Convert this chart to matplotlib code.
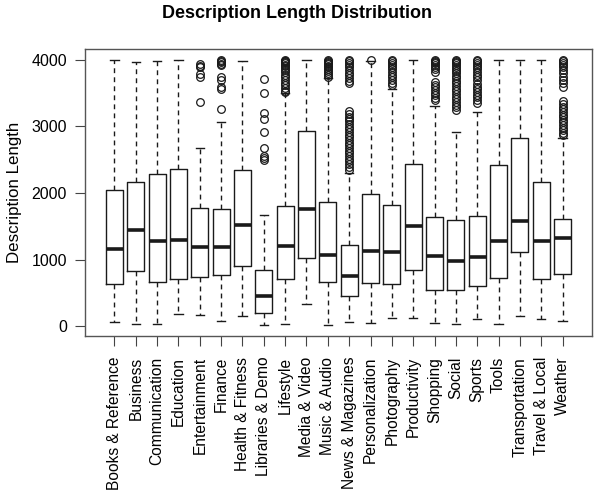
import matplotlib
matplotlib.use("Agg")
import matplotlib.pyplot as plt

plt.rcParams["font.family"] = ["Liberation Sans", "DejaVu Sans"]

categories = ["Books & Reference", "Business", "Communication", "Education",
              "Entertainment", "Finance", "Health & Fitness", "Libraries & Demo",
              "Lifestyle", "Media & Video", "Music & Audio", "News & Magazines",
              "Personalization", "Photography", "Productivity", "Shopping",
              "Social", "Sports", "Tools", "Transportation", "Travel & Local",
              "Weather"]

q1 = [632, 827, 667, 702, 732, 762, 907, 200, 702, 1018, 667,
      451, 647, 627, 842, 541, 541, 601, 717, 1118, 702, 777]
median = [1163, 1439, 1278, 1293, 1183, 1183, 1523, 456, 1198, 1759, 1068,
          747, 1133, 1118, 1504, 1053, 973, 1033, 1278, 1584, 1278, 1328]
q3 = [2045, 2160, 2290, 2356, 1779, 1759, 2341, 842, 1809, 2937, 1870,
      1213, 1985, 1824, 2436, 1644, 1594, 1659, 2416, 2822, 2160, 1609]
whisker_lo = [55, 35, 35, 185, 165, 75, 150, 15, 25, 331, 15,
              65, 50, 125, 125, 50, 35, 100, 35, 150, 100, 75]
whisker_hi = [3995, 3975, 3990, 4000, 2672, 3072, 3985, 1665, 3500, 4000, 3725,
              2300, 3985, 3560, 4000, 3310, 2922, 3215, 4000, 4000, 4000, 2830]

outliers = {
    "Entertainment": [3935, 3910, 3890, 3790, 3750, 3373],
    "Finance": [4000, 3985, 3965, 3945, 3925, 3750, 3700, 3600, 3560, 3258],
    "Libraries & Demo": [3710, 3508, 3208, 3108, 2922, 2672, 2556, 2530, 2500],
    "Lifestyle": [4000, 3990, 3980, 3965, 3950, 3930, 3905, 3880, 3850, 3815,
                  3780, 3740, 3700, 3660, 3620, 3580, 3540, 3515],
    "Music & Audio": [4000, 3990, 3975, 3960, 3940, 3915, 3890, 3860, 3830,
                      3800, 3770, 3745],
    "News & Magazines": [4000, 3980, 3955, 3925, 3890, 3850, 3810, 3770, 3730,
                         3690, 3650, 3230, 3195, 3150, 3110, 3075, 3030, 2990,
                         2955, 2910, 2870, 2835, 2790, 2750, 2715, 2670, 2630,
                         2595, 2550, 2510, 2475, 2430, 2390, 2350],
    "Personalization": [4000],
    "Photography": [4000, 3985, 3960, 3930, 3900, 3860, 3820, 3780, 3740, 3700,
                    3660, 3625],
    "Shopping": [4000, 3990, 3975, 3955, 3930, 3900, 3860, 3820, 3670, 3630,
                 3590, 3550, 3510, 3470, 3430, 3400],
    "Social": [4000, 3990, 3975, 3955, 3930, 3900, 3870, 3835, 3800, 3765, 3730,
               3690, 3650, 3610, 3570, 3530, 3490, 3450, 3410, 3370, 3330,
               3290, 3250],
    "Sports": [4000, 3985, 3960, 3930, 3895, 3860, 3820, 3780, 3740, 3700, 3640,
               3600, 3560, 3520, 3480, 3440, 3400, 3360],
    "Weather": [4000, 3985, 3960, 3930, 3890, 3850, 3800, 3750, 3700, 3650, 3600,
                3380, 3340, 3300, 3260, 3220, 3180, 3140, 3100, 3060, 3020, 2980,
                2940, 2900, 2870],
}

stats = []
for i, name in enumerate(categories):
    stats.append({
        "label": name,
        "q1": q1[i], "med": median[i], "q3": q3[i],
        "whislo": whisker_lo[i], "whishi": whisker_hi[i],
        "fliers": outliers.get(name, []),
    })

fig = plt.figure(figsize=(5.95, 4.9), dpi=100)
ax = fig.add_axes([85 / 595, 1 - 336 / 490, 507 / 595, 287 / 490])

ink = "#1a1a1a"
pos = list(range(1, len(categories) + 1))
ax.bxp(stats, positions=pos, widths=0.8, capwidths=0.4, showfliers=True,
       boxprops=dict(color=ink, linewidth=1.0),
       medianprops=dict(color=ink, linewidth=2.6, solid_capstyle="butt"),
       whiskerprops=dict(color=ink, linewidth=1.0, linestyle=(0, (3.5, 3))),
       capprops=dict(color=ink, linewidth=1.0),
       flierprops=dict(marker="o", markerfacecolor="none", markeredgecolor=ink,
                       markersize=5.5, markeredgewidth=0.9))

ax.set_xlim(-0.38, len(categories) + 1.38)
ax.set_ylim(-150, 4165)
ax.set_yticks([0, 1000, 2000, 3000, 4000])
ax.set_xticks(pos)
ax.set_xticklabels(categories, rotation=90, fontsize=11.2)
ax.tick_params(axis="y", labelsize=11.5, length=7, pad=6, color="#444444")
ax.tick_params(axis="x", length=7, pad=8, color="#444444")
for s in ax.spines.values():
    s.set_color("#555555")
    s.set_linewidth(1.0)

ax.set_ylabel("Description Length", fontsize=12.2, labelpad=7)
fig.text(0.5, 1 - 13 / 490, "Description Length Distribution", ha="center",
         va="center", fontsize=13, fontweight="bold")

fig.savefig("out.png", dpi=100, facecolor="white")
